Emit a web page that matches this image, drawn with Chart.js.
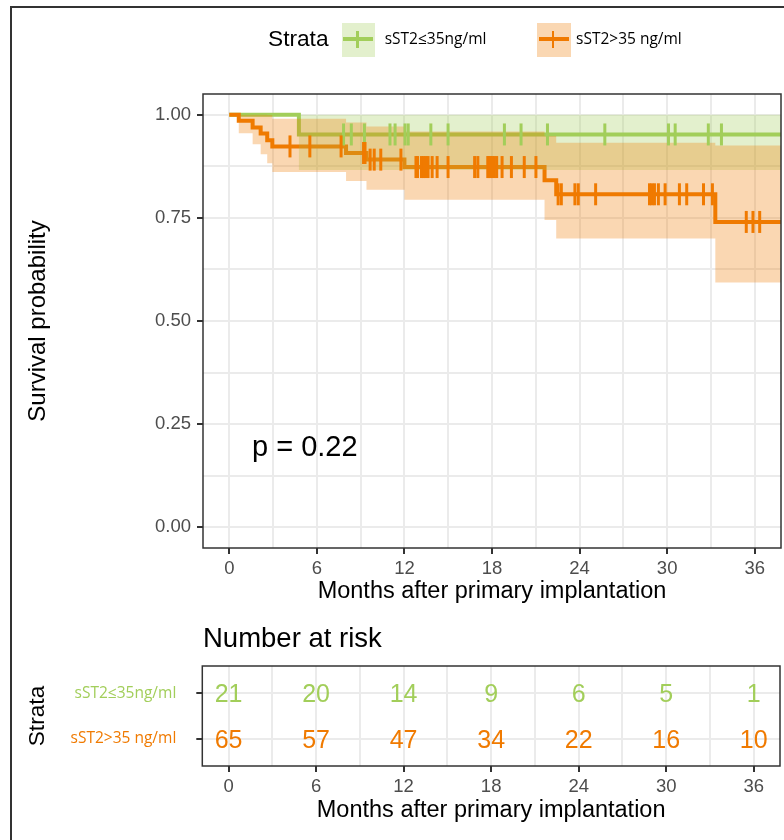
<!DOCTYPE html>
<html>
<head>
<meta charset="utf-8">
<script src="https://cdn.jsdelivr.net/npm/chart.js@4.4.0/dist/chart.umd.min.js"></script>
<style>
body { margin:0; width:784px; height:840px; overflow:hidden; background:#fff; position:relative; font-family:"Liberation Sans", Arial, sans-serif; }
#frame { position:absolute; left:10px; top:6px; width:1000px; height:1000px; border-left:2px solid #333; border-top:2px solid #333; }
canvas { position:absolute; left:0; }
.txt { position:absolute; white-space:nowrap; line-height:1; z-index:5; }
.key { position:absolute; width:33.5px; height:34px; z-index:5; }
.key .h { position:absolute; left:1.6px; top:14.6px; width:30px; height:4px; }
.key .v { position:absolute; left:14.4px; top:8px; width:2.5px; height:17.6px; }
.lab { font-family:"Open Sans", sans-serif; font-size:15.5px; }
</style>
</head>
<body>
<div id="frame"></div>
<canvas id="km" width="784" height="620" style="top:0"></canvas>
<canvas id="risk" width="784" height="200" style="top:640px"></canvas>

<div class="txt" style="left:268px;top:26.6px;font-size:22.7px">Strata</div>
<div class="key" style="left:341.7px;top:22.7px;background:rgba(162,206,90,0.3)"><div class="h" style="background:#A2CE5A"></div><div class="v" style="background:#A2CE5A"></div></div>
<div class="txt lab" style="left:384.7px;top:30.8px">sST2≤35ng/ml</div>
<div class="key" style="left:537.3px;top:22.7px;background:rgba(240,122,0,0.3)"><div class="h" style="background:#F07A00"></div><div class="v" style="background:#F07A00"></div></div>
<div class="txt lab" style="left:576px;top:30.8px">sST2&gt;35 ng/ml</div>

<div class="txt" style="left:252px;top:431.8px;font-size:29px">p = 0.22</div>
<div class="txt" style="left:203px;top:623.5px;font-size:27.5px">Number at risk</div>

<script>
var strata = ["sST2≤35ng/ml", "sST2>35 ng/ml"];
var colLow = "#A2CE5A";
var colHigh = "#F07A00";

var xMajor = [0, 6, 12, 18, 24, 30, 36];
var xMinor = [3, 9, 15, 21, 27, 33];
var yMajor = [0, 0.25, 0.5, 0.75, 1];
var yMinor = [0.125, 0.375, 0.625, 0.875];

// KM steps, sST2 <= 35
var lowTime  = [0, 4.77, 37.8];
var lowSurv  = [1, 0.952, 0.952];
var lowUpper = [1, 1, 1];
var lowLower = [1, 0.866, 0.866];
var lowCensor = [7.83, 8.36, 9.26, 11.01, 11.36, 12.04, 12.26, 13.81, 14.99, 18.85, 19.99, 21.8, 25.73, 30.09, 30.55, 32.82, 33.72];

// KM steps, sST2 > 35
var highTime  = [0, 0.65, 1.6, 2.15, 2.6, 2.95, 8.0, 9.4, 12.0, 21.6, 22.4, 33.3, 37.8];
var highSurv  = [1, 0.985, 0.969, 0.954, 0.938, 0.923, 0.907, 0.891, 0.873, 0.841, 0.807, 0.740, 0.740];
var highUpper = [1, 1, 1, 1, 0.999, 0.990, 0.981, 0.971, 0.959, 0.948, 0.932, 0.925, 0.925];
var highLower = [1, 0.955, 0.928, 0.904, 0.882, 0.861, 0.839, 0.818, 0.794, 0.745, 0.700, 0.593, 0.593];
var highCensor = [4.16, 5.52, 7.66, 9.2, 9.3, 9.65, 9.93, 10.38, 11.76, 12.79, 12.9, 13.17, 13.32, 13.46, 13.62, 13.9, 14.24, 14.99,
                  16.81, 17.03, 17.71, 17.78, 17.89, 18.0, 18.16, 18.32, 18.69, 19.33, 20.21, 21.01, 22.53, 22.75, 23.68, 23.91,
                  25.1, 28.79, 28.95, 29.13, 29.4, 29.86, 30.84, 31.34, 32.49, 33.1, 35.42, 35.88, 36.34];

// number at risk
var riskTimes = [0, 6, 12, 18, 24, 30, 36];
var riskLow  = [21, 20, 14, 9, 6, 5, 1];
var riskHigh = [65, 57, 47, 34, 22, 16, 10];

function pts(times, vals) {
    return times.map(function(t, i) { return {x: t, y: vals[i]}; });
}

function survAt(times, surv, t) {
    var s = surv[0];
    for (var i = 0; i < times.length; i++) {
        if (times[i] <= t) s = surv[i];
    }
    return s;
}

function censorPts(cens, times, surv) {
    return cens.map(function(t) { return {x: t, y: survAt(times, surv, t)}; });
}

var xGrid = xMajor.concat(xMinor).sort(function(a, b) { return a - b; });
var yGrid = yMajor.concat(yMinor).sort(function(a, b) { return a - b; });
var tickFont = {family: "Liberation Sans", size: 18.5};
var titleFont = {family: "Liberation Sans", size: 23.5};

// fixed scale size, no extra padding for edge labels
function fixSize(w, h) {
    return function(s) {
        if (w) s.width = w;
        if (h) s.height = h;
        s.paddingLeft = 0; s.paddingRight = 0; s.paddingTop = 0; s.paddingBottom = 0;
    };
}

var panelBox = {
    id: "panelBox",
    afterDatasetsDraw: function(chart) {
        var a = chart.chartArea, c = chart.ctx;
        c.save();
        c.strokeStyle = "#333";
        c.lineWidth = 1.5;
        c.strokeRect(a.left, a.top, a.right - a.left, a.bottom - a.top);
        c.restore();
    }
};

function lineSet(times, vals, color, order) {
    return {data: pts(times, vals), showLine: true, stepped: "before", borderColor: color,
            borderWidth: 4, pointRadius: 0, fill: false, order: order};
}

function bandSets(times, up, lo, color, order) {
    return [
        {data: pts(times, up), showLine: true, stepped: "before", borderWidth: 0, pointRadius: 0,
         backgroundColor: color, fill: "+1", order: order},
        {data: pts(times, lo), showLine: true, stepped: "before", borderWidth: 0, pointRadius: 0,
         fill: false, order: order}
    ];
}

function censorSet(cens, times, surv, color, order) {
    return {data: censorPts(cens, times, surv), showLine: false, pointStyle: "line", pointRotation: 90,
            pointRadius: 11, pointBorderWidth: 3, pointBorderColor: color, borderColor: color, order: order};
}

var datasets = [
    lineSet(lowTime, lowSurv, colLow, 6),
    lineSet(highTime, highSurv, colHigh, 5)
].concat(bandSets(lowTime, lowUpper, lowLower, "rgba(162,206,90,0.3)", 4))
 .concat(bandSets(highTime, highUpper, highLower, "rgba(240,122,0,0.3)", 3))
 .concat([
    censorSet(lowCensor, lowTime, lowSurv, colLow, 2),
    censorSet(highCensor, highTime, highSurv, colHigh, 1)
 ]);

new Chart(document.getElementById("km"), {
    type: "scatter",
    data: {datasets: datasets},
    plugins: [panelBox],
    options: {
        responsive: false,
        animation: false,
        events: [],
        layout: {autoPadding: false, padding: {left: 20, top: 94, right: 3, bottom: 14.2}},
        plugins: {legend: {display: false}, tooltip: {enabled: false}},
        scales: {
            x: {
                type: "linear", min: -1.8, max: 37.8,
                afterBuildTicks: function(s) { s.ticks = xGrid.map(function(v) { return {value: v}; }); },
                afterFit: fixSize(0, 57.8),
                ticks: {autoSkip: false, maxRotation: 0, padding: 4, color: "#4D4D4D", font: tickFont,
                        callback: function(v) { return xMajor.indexOf(v) >= 0 ? String(v) : ""; }},
                grid: {color: "#EBEBEB", lineWidth: 2, tickLength: 6, tickWidth: 2,
                       tickColor: function(c) { return xMajor.indexOf(c.tick.value) >= 0 ? "#333" : "rgba(0,0,0,0)"; }},
                border: {display: false},
                title: {display: true, text: "Months after primary implantation", color: "#000", font: titleFont, padding: 0}
            },
            y: {
                type: "linear", min: -0.05, max: 1.05,
                afterBuildTicks: function(s) { s.ticks = yGrid.map(function(v) { return {value: v}; }); },
                afterFit: fixSize(183, 0),
                ticks: {autoSkip: false, padding: 6, color: "#4D4D4D", font: tickFont,
                        callback: function(v) { return yMajor.indexOf(v) >= 0 ? v.toFixed(2) : ""; }},
                grid: {color: "#EBEBEB", lineWidth: 2, tickLength: 6, tickWidth: 2,
                       tickColor: function(c) { return yMajor.indexOf(c.tick.value) >= 0 ? "#333" : "rgba(0,0,0,0)"; }},
                border: {display: false},
                title: {display: true, text: "Survival probability", color: "#000",
                        font: {family: "Liberation Sans", size: 24}, padding: {top: 3.6, bottom: 0}}
            }
        }
    }
});

// risk table
var riskText = {
    id: "riskText",
    afterDatasetsDraw: function(chart) {
        var xs = chart.scales.x, ys = chart.scales.y, c = chart.ctx;
        c.save();
        c.font = '25px "Liberation Sans"';
        c.textAlign = "center";
        c.textBaseline = "alphabetic";
        riskTimes.forEach(function(t, i) {
            c.fillStyle = colLow;
            c.fillText(String(riskLow[i]), xs.getPixelForValue(t), ys.getPixelForValue(2) + 9);
            c.fillStyle = colHigh;
            c.fillText(String(riskHigh[i]), xs.getPixelForValue(t), ys.getPixelForValue(1) + 9);
        });
        c.restore();
    }
};

new Chart(document.getElementById("risk"), {
    type: "scatter",
    data: {datasets: [{data: []}]},
    plugins: [riskText, panelBox],
    options: {
        responsive: false,
        animation: false,
        events: [],
        layout: {autoPadding: false, padding: {left: 20, top: 26, right: 4, bottom: 14.9}},
        plugins: {legend: {display: false}, tooltip: {enabled: false}},
        scales: {
            x: {
                type: "linear", min: -1.8, max: 37.8,
                afterBuildTicks: function(s) { s.ticks = xGrid.map(function(v) { return {value: v}; }); },
                afterFit: fixSize(0, 59.1),
                ticks: {autoSkip: false, maxRotation: 0, padding: 4, color: "#4D4D4D", font: tickFont,
                        callback: function(v) { return xMajor.indexOf(v) >= 0 ? String(v) : ""; }},
                grid: {color: "#EBEBEB", lineWidth: 2, tickLength: 6, tickWidth: 2,
                       tickColor: function(c) { return xMajor.indexOf(c.tick.value) >= 0 ? "#333" : "rgba(0,0,0,0)"; }},
                border: {display: false},
                title: {display: true, text: "Months after primary implantation", color: "#000", font: titleFont, padding: 0}
            },
            y: {
                type: "linear", min: 0.4, max: 2.6,
                afterBuildTicks: function(s) { s.ticks = [{value: 1}, {value: 2}]; },
                afterFit: fixSize(182.3, 0),
                ticks: {autoSkip: false, padding: 20, font: {family: "Open Sans", size: 15.5},
                        color: function(c) { return c.tick.value === 2 ? colLow : colHigh; },
                        callback: function(v) { return v === 2 ? strata[0] : strata[1]; }},
                grid: {color: "#EBEBEB", lineWidth: 2, tickLength: 6, tickWidth: 2, tickColor: "#333"},
                border: {display: false},
                title: {display: true, text: "Strata", color: "#000",
                        font: {family: "Liberation Sans", size: 22.7}, padding: {top: 4.1, bottom: 0}}
            }
        }
    }
});
</script>
</body>
</html>
